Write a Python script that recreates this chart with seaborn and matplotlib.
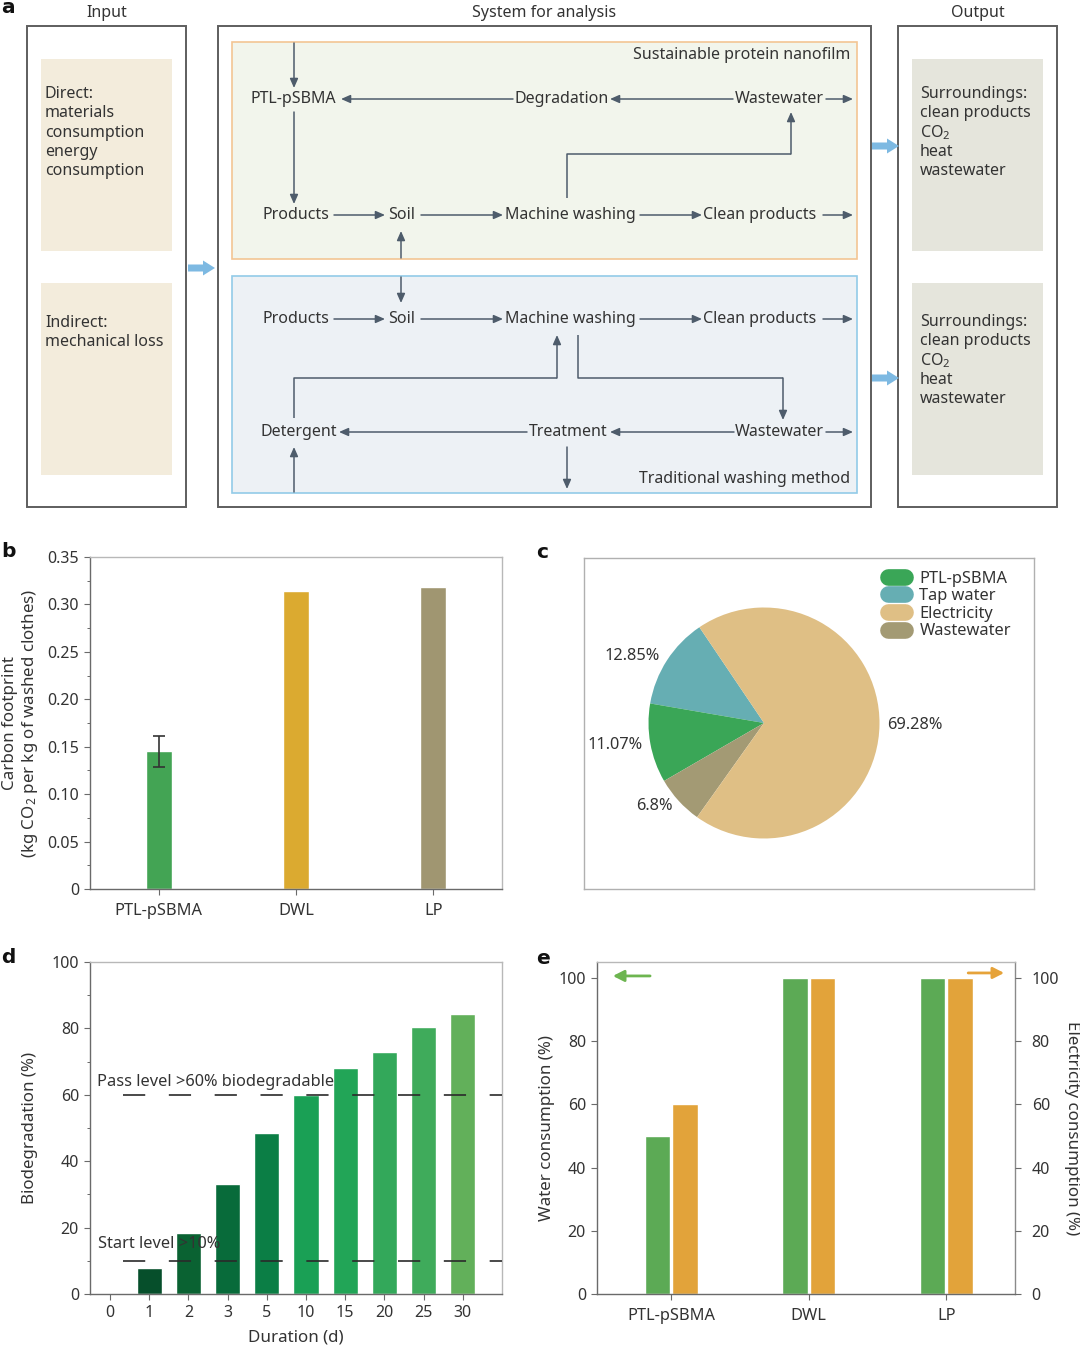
import numpy as np
import pandas as pd
import matplotlib
matplotlib.use("Agg")
import matplotlib.pyplot as plt
import seaborn as sns
from matplotlib.patches import Rectangle, FancyArrow
from matplotlib.lines import Line2D

# ---------------- data ----------------
b_labels = ["PTL-pSBMA", "DWL", "LP"]
b_values = [0.145, 0.314, 0.318]
b_errors = [0.016, 0.0, 0.0]

c_labels = ["PTL-pSBMA", "Tap water", "Electricity", "Wastewater"]
c_values = [11.07, 12.85, 69.28, 6.8]
c_pct_text = ["11.07%", "12.85%", "69.28%", "6.8%"]

d_days = ["0", "1", "2", "3", "5", "10", "15", "20", "25", "30"]
d_values = [0, 7.8, 18.3, 33.0, 48.5, 59.9, 68.1, 72.9, 80.3, 84.3]
d_pass_level = 60
d_start_level = 10

e_labels = ["PTL-pSBMA", "DWL", "LP"]
e_water = [50, 100, 100]
e_electricity = [60, 100, 100]

# ---------------- style ----------------
sns.set_theme(style="ticks")
plt.rcParams["font.family"] = ["Noto Sans", "DejaVu Sans"]
plt.rcParams["mathtext.fontset"] = "custom"
plt.rcParams["mathtext.rm"] = "Noto Sans"
plt.rcParams["mathtext.it"] = "Noto Sans:italic"
plt.rcParams["mathtext.bf"] = "Noto Sans:bold"
plt.rcParams["lines.scale_dashes"] = False

TXT = "#333333"
LC = "#4e5c6b"
TICK_FS = 11.5
LAB_FS = 12.2
W, H = 1080, 1347
fig = plt.figure(figsize=(W / 100, H / 100), dpi=100)


def px_axes(l, t, r, b, **kw):
    return fig.add_axes([l / W, 1 - b / H, (r - l) / W, (b - t) / H], **kw)


def style_axes(ax, dark="#6a6a6a", light="#b8b8b8", right_dark=False):
    for s in ["left", "bottom"]:
        ax.spines[s].set_color(dark)
        ax.spines[s].set_linewidth(1.0)
    for s in ["top", "right"]:
        ax.spines[s].set_visible(True)
        ax.spines[s].set_color(light)
        ax.spines[s].set_linewidth(1.0)
    if right_dark:
        ax.spines["right"].set_color(dark)
    ax.tick_params(axis="both", which="major", direction="out", length=4, width=0.8,
                   color="#6a6a6a", labelsize=TICK_FS, labelcolor=TXT, pad=4)
    ax.tick_params(axis="both", which="minor", direction="out", length=2.5, width=0.7,
                   color="#6a6a6a")


# ---------------- panel b ----------------
axb = px_axes(90, 557, 502, 889)
b_colors = ["#43a454", "#dbaa30", "#a09671"]
dfb = pd.DataFrame({"sample": b_labels, "cf": b_values})
sns.barplot(data=dfb, x="sample", y="cf", hue="sample", palette=b_colors, legend=False,
            width=0.19, saturation=1, ax=axb)
bx = np.arange(len(b_labels))
be = np.array(b_errors)
mask = be > 0
axb.errorbar(bx[mask], np.array(b_values)[mask], yerr=be[mask], fmt="none",
             ecolor="#333333", elinewidth=1.2, capsize=4, capthick=1.2)
axb.set_xlim(-0.5, 2.5)
axb.set_ylim(0, 0.35)
axb.set_yticks(np.arange(0, 0.351, 0.05))
axb.set_yticklabels(["0", "0.05", "0.10", "0.15", "0.20", "0.25", "0.30", "0.35"])
axb.set_yticks(np.arange(0.025, 0.35, 0.05), minor=True)
axb.set_xlabel("")
axb.set_ylabel("Carbon footprint\n(kg CO$_2$ per kg of washed clothes)", fontsize=LAB_FS,
               color=TXT, linespacing=1.1)
axb.yaxis.set_label_coords(-0.122, 0.5)
style_axes(axb)
axb.tick_params(axis="x", labelsize=11.8, pad=6)

# ---------------- panel c ----------------
axc = px_axes(584, 558, 1034, 889)
c_colors = {"PTL-pSBMA": "#3aa657", "Tap water": "#66aeb3",
            "Electricity": "#dfbf85", "Wastewater": "#a39a74"}
pie_order = [1, 0, 3, 2]  # Tap water, PTL-pSBMA, Wastewater, Electricity (counter-clockwise)
wedges, texts = axc.pie([c_values[i] for i in pie_order],
                        colors=[c_colors[c_labels[i]] for i in pie_order],
                        labels=[c_pct_text[i] for i in pie_order],
                        labeldistance=1.07, startangle=124, counterclock=True,
                        radius=1, center=(0, 0),
                        textprops=dict(fontsize=11.8, color=TXT),
                        wedgeprops=dict(linewidth=0))
R = 115.5
axc.set_aspect("auto")
axc.set_frame_on(True)
axc.set_xlim((584 - 764) / R, (1034 - 764) / R)
axc.set_ylim((723 - 889) / R, (723 - 558) / R)
axc.set_xticks([])
axc.set_yticks([])
for s in axc.spines.values():
    s.set_visible(True)
    s.set_color("#b0b0b0")
    s.set_linewidth(1.0)
handles = [Line2D([0], [0], color=c_colors[l], lw=12, solid_capstyle="round") for l in c_labels]
leg = axc.legend(handles, c_labels, loc="upper left", bbox_to_anchor=(0.676, 0.962),
                 frameon=False, fontsize=11.8, handlelength=1.0, handletextpad=0.9,
                 labelspacing=0.1, borderaxespad=0, borderpad=0)
for t in leg.get_texts():
    t.set_color(TXT)

# ---------------- panel d ----------------
axd = px_axes(90, 962, 502, 1294)
d_colors = ["#0b5a30", "#064f2b", "#0a6232", "#086b3a", "#0b7e45", "#1aa055",
            "#22a557", "#33a85a", "#3fab5b", "#62b05a"]
sns.barplot(x=d_days, y=d_values, hue=d_days, order=d_days, hue_order=d_days,
            palette=d_colors, legend=False, width=0.64, saturation=1, ax=axd)
axd.axhline(d_pass_level, xmin=0.08, xmax=1, color="#2a2a2a", lw=1.2, ls=(0, (16, 17)), zorder=5)
axd.axhline(d_start_level, xmin=0.08, xmax=1, color="#2a2a2a", lw=1.2, ls=(0, (16, 17)), zorder=5)
axd.text(0.017, d_pass_level + 2.7, "Pass level >60% biodegradable", transform=axd.get_yaxis_transform(),
         fontsize=11.8, color=TXT, va="baseline", ha="left", zorder=6)
axd.text(0.019, d_start_level + 3.9, "Start level >10%", transform=axd.get_yaxis_transform(),
         fontsize=11.8, color=TXT, va="baseline", ha="left", zorder=6)
axd.set_xlim(-0.51, 10.0)
axd.set_ylim(0, 100)
axd.set_yticks(np.arange(0, 101, 20))
axd.set_yticks(np.arange(10, 100, 20), minor=True)
axd.set_xlabel("Duration (d)", fontsize=LAB_FS, color=TXT, labelpad=6)
axd.set_ylabel("Biodegradation (%)", fontsize=LAB_FS, color=TXT)
axd.yaxis.set_label_coords(-0.125, 0.5)
style_axes(axd)

# ---------------- panel e ----------------
axe = px_axes(597, 962, 1015, 1294)
dfe = pd.DataFrame({"sample": e_labels * 2,
                    "value": e_water + e_electricity,
                    "kind": ["Water"] * len(e_labels) + ["Electricity"] * len(e_labels)})
sns.barplot(data=dfe, x="sample", y="value", hue="kind",
            palette={"Water": "#5caa55", "Electricity": "#e2a33a"},
            width=0.4, gap=0.07, saturation=1, legend=False, ax=axe)
axe.set_xlim(-0.54, 2.5)
axe.set_ylim(0, 105)
axe.set_yticks(np.arange(0, 101, 20))
axe.set_xlabel("")
axe.set_ylabel("Water consumption (%)", fontsize=LAB_FS, color=TXT)
axe.yaxis.set_label_coords(-0.1, 0.5)
style_axes(axe, right_dark=True)
axe.spines["right"].set_color("#8a8a8a")
axe.tick_params(axis="x", labelsize=11.8, pad=6)
axr = axe.twinx()
axr.set_ylim(0, 105)
axr.set_yticks(np.arange(0, 101, 20))
axr.set_ylabel("Electricity consumption (%)", fontsize=LAB_FS, color=TXT, rotation=270,
               va="center", ha="center")
axr.yaxis.set_label_coords(1.136, 0.5)
for s in axr.spines.values():
    s.set_visible(False)
axr.tick_params(axis="y", direction="out", length=4, width=0.8, color="#6a6a6a",
                labelsize=TICK_FS, labelcolor=TXT, pad=8)
axe.annotate("", xy=(0.038, 0.958), xytext=(0.127, 0.958), xycoords="axes fraction",
             arrowprops=dict(arrowstyle="-|>,head_length=0.55,head_width=0.28",
                             color="#6db550", lw=2, shrinkA=0, shrinkB=0, mutation_scale=12))
axe.annotate("", xy=(0.974, 0.967), xytext=(0.888, 0.967), xycoords="axes fraction",
             arrowprops=dict(arrowstyle="-|>,head_length=0.55,head_width=0.28",
                             color="#e6a33a", lw=2, shrinkA=0, shrinkB=0, mutation_scale=12))

# ---------------- overlay: panel a diagram and letters ----------------
ov = fig.add_axes([0, 0, 1, 1], zorder=20)
ov.set_xlim(0, W)
ov.set_ylim(H, 0)
ov.axis("off")

DFS = 11.5


def txt(x, y, s, ha="left", size=DFS, **kw):
    ov.text(x, y, s, ha=ha, va="center", fontsize=size, color=TXT, **kw)


def arr(x0, y0, x1, y1):
    ov.annotate("", xy=(x1, y1), xytext=(x0, y0), xycoords="data",
                arrowprops=dict(arrowstyle="-|>,head_length=0.5,head_width=0.22",
                                color=LC, lw=1.1, shrinkA=0, shrinkB=0, mutation_scale=11))


def poly(pts):
    xs = [p[0] for p in pts[:-1]]
    ys = [p[1] for p in pts[:-1]]
    ov.plot(xs, ys, color=LC, lw=1.1, solid_capstyle="butt")
    arr(pts[-2][0], pts[-2][1], pts[-1][0], pts[-1][1])


box_edge = "#5e5e5e"
for (x, y, w, h) in [(27, 26, 159, 481), (218, 26, 653, 481), (898, 26, 159, 481)]:
    ov.add_patch(Rectangle((x, y), w, h, fill=False, ec=box_edge, lw=1.4))
for y in (59, 283):
    ov.add_patch(Rectangle((41, y), 131, 192, fc="#f3ecdc", ec="none"))
    ov.add_patch(Rectangle((912, y), 131, 192, fc="#e5e5dc", ec="none"))
ov.add_patch(Rectangle((232, 42), 625, 217, fc="#f2f5ec", ec="#f3c594", lw=1.2))
ov.add_patch(Rectangle((232, 276), 625, 217, fc="#edf1f5", ec="#92cbe8", lw=1.2))

txt(107, 13, "Input", ha="center")
txt(544, 13, "System for analysis", ha="center")
txt(978, 13, "Output", ha="center")

for i, s in enumerate(["Direct:", "materials", "consumption", "energy", "consumption"]):
    txt(45, 94 + 19.3 * i, s)
for i, s in enumerate(["Indirect:", "mechanical loss"]):
    txt(45, 323 + 19.3 * i, s)
for base in (94, 322):
    for i, s in enumerate(["Surroundings:", "clean products", "CO$_2$", "heat", "wastewater"]):
        txt(920, base + 19.3 * i, s)

txt(850, 55, "Sustainable protein nanofilm", ha="right")
txt(850, 479, "Traditional washing method", ha="right")

txt(250, 99, "PTL-pSBMA")
txt(515, 99, "Degradation")
txt(735, 99, "Wastewater")
for yy in (215, 319):
    txt(263, yy, "Products")
    txt(388, yy, "Soil")
    txt(505, yy, "Machine washing")
    txt(703, yy, "Clean products")
txt(260, 432, "Detergent")
txt(529, 432, "Treatment")
txt(735, 432, "Wastewater")

arr(294, 43, 294, 88)
arr(513, 99, 341, 99)
arr(733, 99, 610, 99)
arr(826, 99, 853, 99)
arr(294, 112, 294, 204)
for yy in (215, 319):
    arr(334, yy, 385, yy)
    arr(421, yy, 503, yy)
    arr(640, yy, 702, yy)
    arr(823, yy, 853, yy)
poly([(567, 198), (567, 154), (791, 154), (791, 112)])
arr(401, 258, 401, 231)
arr(401, 277, 401, 303)
poly([(294, 418), (294, 378), (557, 378), (557, 335)])
poly([(578, 335), (578, 378), (783, 378), (783, 420)])
arr(527, 432, 339, 432)
arr(734, 432, 610, 432)
arr(826, 432, 853, 432)
arr(294, 492, 294, 447)
arr(567, 447, 567, 489)

for (x0, y0) in [(188, 268), (872, 146), (872, 378)]:
    ov.add_patch(FancyArrow(x0, y0, 27, 0, width=7, head_width=15, head_length=12,
                            length_includes_head=True, color="#7db9e2", lw=0))

for (x, y, s) in [(1, 13, "a"), (1, 557, "b"), (536, 558, "c"), (1, 963, "d"), (536, 964, "e")]:
    ov.text(x, y, s, fontsize=14.5, fontweight="bold", color="#111111", va="baseline",
            ha="left", family="DejaVu Sans")

fig.savefig("out.png", dpi=100)
